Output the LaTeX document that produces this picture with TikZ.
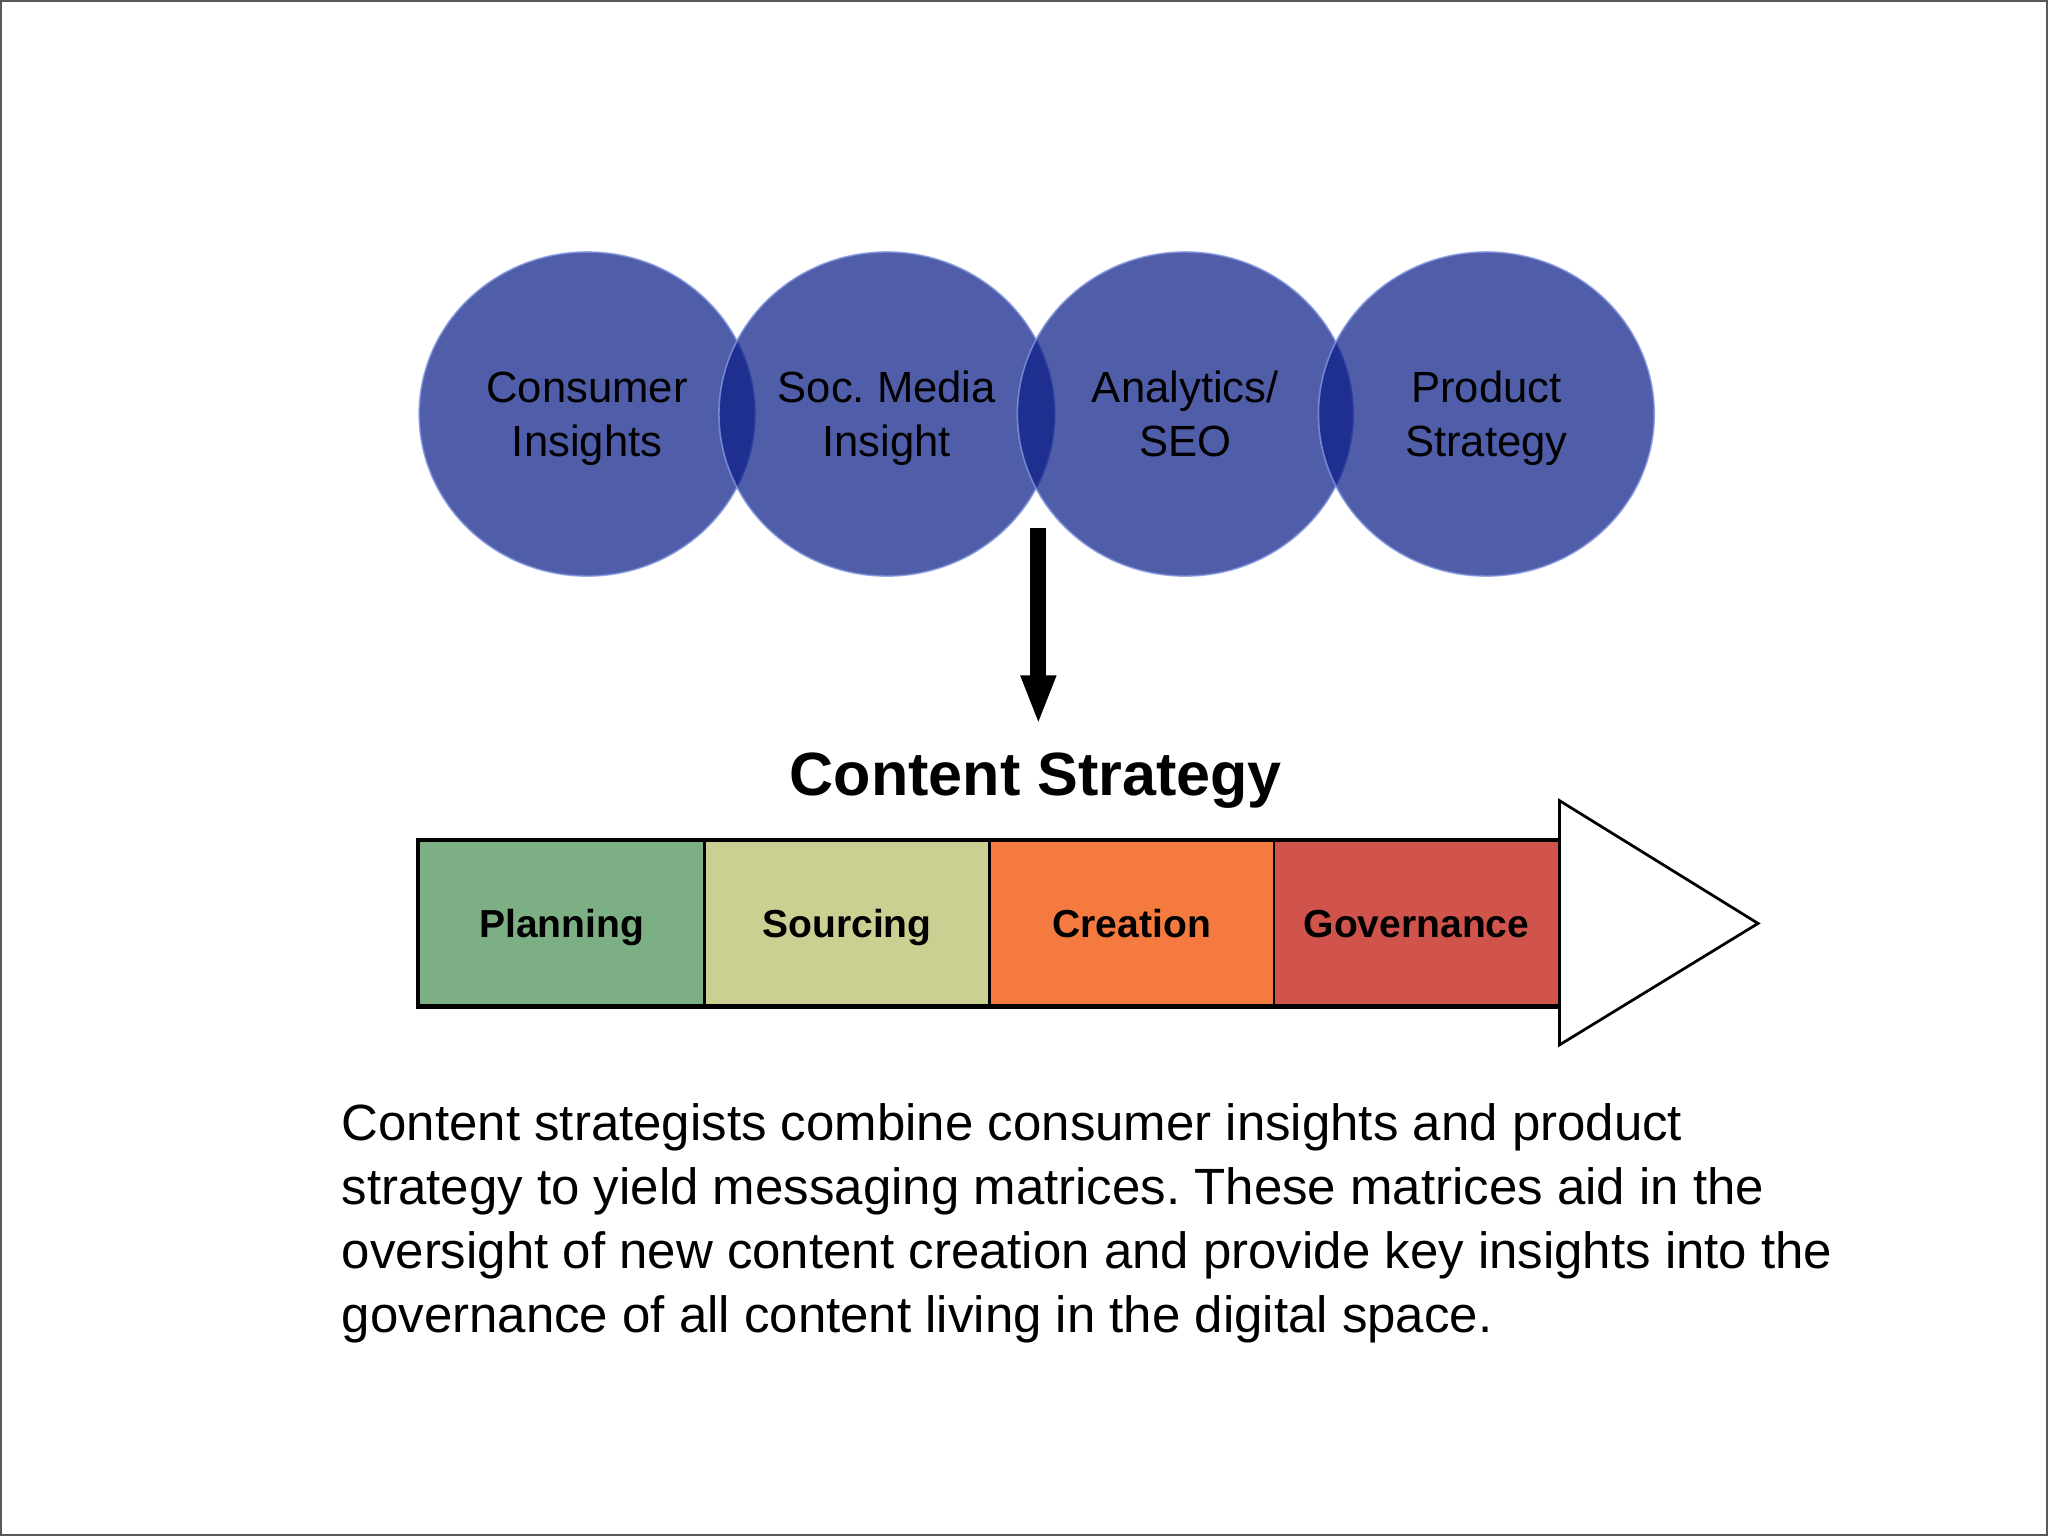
\documentclass[tikz,border=0pt]{standalone}
\usepackage{fontspec}
\setmainfont{Liberation Sans}
\usetikzlibrary{shapes.geometric,arrows.meta}
\definecolor{circ}{RGB}{10,28,133}
\definecolor{circedge}{RGB}{130,150,225}
\definecolor{cplan}{RGB}{124,176,132}
\definecolor{csrc}{RGB}{203,207,145}
\definecolor{ccre}{RGB}{245,122,64}
\definecolor{cgov}{RGB}{208,84,75}
\frenchspacing
\begin{document}
\frenchspacing
\begin{tikzpicture}[x=0.01cm,y=-0.01cm,
  bubble/.style={ellipse, minimum width=2.57cm, minimum height=2.48cm, inner sep=0pt,
    fill=circ, fill opacity=0.714, text opacity=1, draw=circedge, draw opacity=0.8,
    line width=0.35pt, align=center, text depth=0pt,
    font=\frenchspacing\fontsize{9.5pt}{11.7pt}\selectfont},
  cell/.style={rectangle, minimum width=2.18cm, minimum height=1.26cm, inner sep=0pt,
    draw=black, line width=0.55pt, text depth=0pt,
    font=\bfseries\fontsize{8.5pt}{10pt}\selectfont},
  body/.style={anchor=base west, inner sep=0pt,
    font=\frenchspacing\fontsize{11.1pt}{13.9pt}\selectfont}]
\useasboundingbox (0,0) rectangle (1568,1176);
\draw[gray!70!black, line width=0.4pt] (1,1) rectangle (1567,1175);

% bubbles
\node[bubble] (ci) at (449.5,317) {Consumer\\Insights};
\node[bubble] (sm) at (679,317) {Soc. Media\\Insight};
\node[bubble] (an) at (907.5,317) {Analytics/\\SEO};
\node[bubble] (ps) at (1138,317) {Product\\Strategy};

% down arrow
\coordinate (arrtop) at (795,404);
\coordinate (arrtip) at (795,555);
\draw[line width=3.5pt, -{Triangle[width=7pt,length=10.8pt]}] (arrtop) -- (arrtip);

% title
\node[anchor=base, inner sep=0pt, font=\bfseries\fontsize{13.3pt}{16pt}\selectfont] (title) at (793,609) {Content Strategy};

% bar
\node[cell, fill=cplan] (plan) at (430,707) {Planning};
\node[cell, fill=csrc] (src) at (648.5,707) {Sourcing};
\node[cell, fill=ccre] (cre) at (866.5,707) {Creation};
\node[cell, fill=cgov] (gov) at (1084.5,707) {Governance};
\draw[line width=0.8pt] (plan.north west) rectangle (gov.south east);
\draw[line width=0.6pt, fill=white, line join=miter] (1194,613) -- (1346,707) -- (1194,800) -- cycle;

% body text
\node[body] (b1) at (261,873) {Content strategists combine consumer insights and product};
\node[body] (b2) at (261,922) {strategy to yield messaging matrices. These matrices aid in the};
\node[body] (b3) at (261,971) {oversight of new content creation and provide key insights into the};
\node[body] (b4) at (261,1020) {governance of all content living in the digital space.};
\end{tikzpicture}
\end{document}
